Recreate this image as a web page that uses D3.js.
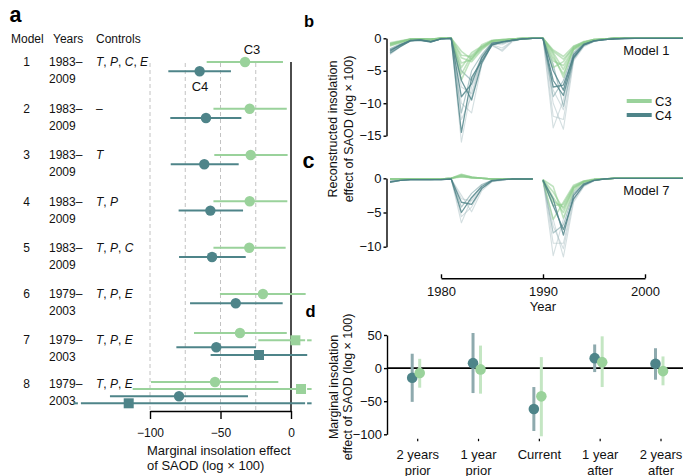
<!DOCTYPE html>
<html><head><meta charset="utf-8">
<script src="https://cdn.jsdelivr.net/npm/d3@7"></script>
<style>
body{margin:0;background:#fff;}
svg{display:block;font-family:"Liberation Sans",Arial,Helvetica,sans-serif;}
</style></head><body>
<svg id="chart" width="683" height="476"></svg>
<script>
// ===================== DATA =====================
// Panel a: model specifications
const modelIds = [1,2,3,4,5,6,7,8];
const modelStart = ["1983–","1983–","1983–","1983–","1983–","1979–","1979–","1979–"];
const modelEnd = ["2009","2009","2009","2009","2009","2003","2003","2003"];
const modelControls = ["T,P,C,E","–","T","T,P","T,P,C","T,P,E","T,P,E","T,P,E"];

// Panel a: estimates (marginal insolation effect, log x 100)
const estModel = [1,1, 2,2, 3,3, 4,4, 5,5, 6,6, 7,7,7,7, 8,8,8,8];
const estGroup = ["C3","C4","C3","C4","C3","C4","C3","C4","C3","C4","C3","C4",
                  "C3","C3","C4","C4","C3","C3","C4","C4"];
const estShape = ["circle","circle","circle","circle","circle","circle","circle","circle","circle","circle","circle","circle",
                  "circle","square","circle","square","circle","square","circle","square"];
const estValue = [-32.6,-64.8, -29.3,-60.3, -28.6,-61.5, -29.3,-57.2, -29.6,-56.0, -19.9,-39.2,
                  -36.2,3.1,-53.0,-22.7, -53.9,7.1,-79.4,-115.1];
const estLow   = [-59.8,-87.0, -55.0,-85.6, -54.4,-85.3, -55.0,-79.7, -55.0,-79.4, -50.4,-71.6,
                  -68.8,-23.2,-81.3,-57.0, -99.3,-112.3,-128.4,-240];
const estHigh  = [-5.7,-42.6, -3.0,-35.2, -2.4,-37.1, -2.6,-34.0, -3.8,-32.1, 10.4,-5.9,
                  -3.0,30,-24.8,11.5, -9.0,120,-30.5,110];
const axisATicks = [-100,-50,0];
const gridATicks = [-100,-75,-50,-25];

// Panels b, c: reconstructed insolation effect ensembles
const years = [1975,1976,1977,1978,1979,1980,1981,1982,1983,1984,1985,1986,1987,1988,1989,
               1990,1991,1992,1993,1994,1995,1996,1997,1998,1999,2000,2001,2002,2003,2004];
const m1C4Shade = ["light","light","light","light","mid","mid","dark","dark","dark"];
const m1C4Runs = [
 [-2.5,-1.3,-0.4,-0.3,-0.6,-0.1,0,-16.0,-7.5,-3.5,-1.0,-2.0,-0.5,-0.1,0,0,-13.8,-9.5,-3.0,-1.2,-0.5,-0.2,-0.1,0,0,0,0,0,0,0],
 [-1.9,-1.1,-0.3,-0.2,-0.4,0,0,-10.0,-11.5,-4.0,-1.0,-1.5,-0.4,-0.1,0,0,-10.0,-14.0,-3.5,-1.3,-0.5,-0.2,-0.1,0,0,0,0,0,0,0],
 [-1.7,-1.0,-0.3,-0.2,-0.4,0,0,-7.5,-8.5,-3.0,-0.9,-1.0,-0.3,-0.1,0,0,-12.0,-12.5,-3.2,-1.0,-0.4,-0.1,0,0,0,0,0,0,0,0],
 [-2.2,-1.2,-0.4,-0.3,-0.5,-0.1,0,-12.5,-9.0,-3.2,-1.2,-1.8,-0.4,-0.1,0,0,-8.0,-11.0,-3.0,-1.1,-0.4,-0.1,0,0,0,0,0,0,0,0],
 [-2.1,-1.2,-0.3,-0.3,-0.5,-0.1,0,-5.0,-6.5,-2.8,-0.7,-0.5,-0.2,-0.1,0,0,-4.0,-10.5,-3.2,-1.1,-0.4,-0.2,-0.1,0,0,0,0,0,0,0],
 [-1.6,-0.9,-0.3,-0.2,-0.4,0,0,-11.5,-5.0,-2.5,-0.6,-0.8,-0.3,-0.1,0,0,-9.0,-6.5,-2.2,-0.8,-0.3,-0.1,0,0,0,0,0,0,0,0],
 [-2.3,-1.3,-0.4,-0.3,-0.6,-0.1,0,-14.5,-6.0,-3.5,-1.0,-0.6,-0.3,-0.1,0,0,-6.5,-8.8,-3.0,-1.0,-0.4,-0.2,-0.1,-0.1,0,0,0,0,0,0],
 [-2.0,-1.0,-0.3,-0.3,-0.5,-0.1,0,-9.0,-7.0,-3.0,-0.8,-0.5,-0.3,-0.1,0,0,-5.0,-8.0,-2.5,-0.9,-0.4,-0.2,-0.1,0,0,0,0,0,0,0],
 [-1.8,-1.1,-0.4,-0.2,-0.5,-0.1,0,-6.5,-9.5,-3.8,-1.0,-0.6,-0.3,-0.1,0,0,-7.5,-7.2,-2.8,-1.0,-0.4,-0.2,-0.1,0,0,0,0,0,0,0]
];
const m1C3Runs = [
 [-1.0,-0.6,-0.2,-0.1,-0.2,0,0,-6.4,-3.0,-1.5,-0.4,-0.3,-0.2,-0.1,0,0,-2.0,-3.2,-1.5,-0.7,-0.3,-0.1,0,0,0,0,0,0,0,0],
 [-0.8,-0.5,-0.1,-0.1,-0.1,0,0,-3.0,-3.6,-1.8,-0.5,-0.3,-0.2,-0.1,0,0,-3.0,-5.5,-1.8,-0.8,-0.3,-0.1,0,0,0,0,0,0,0,0],
 [-1.2,-0.7,-0.2,-0.1,-0.2,0,0,-4.5,-2.2,-1.2,-0.4,-0.3,-0.1,0,0,0,-1.8,-2.8,-1.2,-0.6,-0.2,-0.1,0,0,0,0,0,0,0,0],
 [-0.7,-0.4,-0.1,-0.1,-0.1,0,0,-2.0,-3.2,-1.6,-0.5,-0.3,-0.1,0,0,0,-3.5,-4.2,-1.6,-0.7,-0.3,-0.1,0,0,0,0,0,0,0,0],
 [-0.9,-0.5,-0.2,-0.1,-0.2,0,0,-5.5,-2.6,-1.3,-0.4,-0.3,-0.1,0,0,0,-2.5,-6.0,-1.4,-0.6,-0.2,-0.1,0,0,0,0,0,0,0,0],
 [-1.1,-0.6,-0.2,-0.1,-0.2,0,0,-3.8,-3.3,-1.0,-0.3,-0.2,-0.1,0,0,0,-4.5,-3.6,-1.3,-0.5,-0.2,-0.1,0,0,0,0,0,0,0,0],
 [-0.9,-0.5,-0.1,-0.1,-0.1,0,0,-2.6,-2.8,-1.4,-0.4,-0.2,-0.1,0,0,0,-2.2,-4.8,-1.7,-0.6,-0.2,-0.1,0,0,0,0,0,0,0,0]
];
const m7C4Shade = ["light","light","light","light","mid","dark","dark"];
const m7C4Runs = [
 [-0.4,-0.2,-0.2,-0.2,-0.2,-0.1,-0.1,-6.5,-3.0,-1.0,-0.3,-0.2,-0.1,-0.1,-0.1,-0.2,-11.3,-6.0,-2.0,-0.8,-0.2,-0.1,0,0,0,0,0,0,0,0],
 [-0.5,-0.3,-0.2,-0.2,-0.2,-0.2,-0.1,-2.5,-4.9,-1.8,-0.5,-0.3,-0.1,-0.1,-0.1,-0.3,-6.0,-11.5,-3.5,-1.2,-0.4,-0.1,0,0,0,0,0,0,0,0],
 [-0.4,-0.3,-0.2,-0.2,-0.2,-0.1,-0.1,-3.0,-3.3,-1.4,-0.4,-0.2,-0.1,-0.1,-0.1,-0.2,-9.5,-9.5,-2.8,-1.0,-0.3,-0.1,0,0,0,0,0,0,0,0],
 [-0.5,-0.3,-0.2,-0.2,-0.2,-0.1,-0.1,-5.6,-4.2,-1.5,-0.4,-0.2,-0.1,-0.1,-0.1,-0.3,-7.0,-10.3,-3.2,-1.1,-0.3,-0.1,0,0,0,0,0,0,0,0],
 [-0.6,-0.3,-0.2,-0.2,-0.2,-0.2,-0.1,-4.2,-2.2,-0.9,-0.3,-0.2,-0.1,-0.1,-0.1,-0.2,-8.0,-6.8,-2.2,-0.9,-0.3,-0.1,0,0,0,0,0,0,0,0],
 [-0.5,-0.3,-0.2,-0.2,-0.2,-0.2,-0.1,-5.0,-2.8,-1.2,-0.3,-0.2,-0.1,-0.1,-0.1,-0.3,-4.0,-7.5,-3.0,-1.0,-0.3,-0.1,0,0,0,0,0,0,0,0],
 [-0.6,-0.3,-0.2,-0.2,-0.2,-0.2,-0.1,-3.5,-3.8,-1.5,-0.4,-0.2,-0.1,-0.1,-0.1,-0.3,-3.0,-8.3,-2.5,-0.8,-0.3,-0.1,0,0,0,0,0,0,0,0]
];
const m7C3Runs = [
 [-0.1,-0.1,-0.1,-0.1,-0.1,-0.1,0,0.5,0.2,0,-0.1,-0.1,-0.1,-0.1,-0.1,-0.2,-2.0,-4.5,-1.5,-0.5,-0.2,-0.1,0,0,0,0,0,0,0,0],
 [-0.1,-0.1,-0.1,-0.1,-0.1,-0.1,0,0.3,0.1,0,-0.1,-0.1,-0.1,-0.1,-0.1,-0.3,-4.0,-3.8,-1.2,-0.4,-0.2,-0.1,0,0,0,0,0,0,0,0],
 [-0.1,-0.1,-0.1,-0.1,-0.1,-0.1,0,0.6,0.2,0,-0.1,-0.1,-0.1,-0.1,-0.1,-0.2,-1.2,-5.8,-1.8,-0.6,-0.2,-0.1,0,0,0,0,0,0,0,0],
 [-0.1,-0.1,-0.1,-0.1,-0.1,-0.1,0,0.4,0.1,0,-0.1,-0.1,-0.1,-0.1,-0.1,-0.4,-6.0,-3.5,-1.0,-0.4,-0.1,-0.1,0,0,0,0,0,0,0,0],
 [-0.1,-0.1,-0.1,-0.1,-0.1,-0.1,0,0.2,0.1,0,-0.1,-0.1,-0.1,-0.1,-0.1,-0.2,-2.8,-5.0,-1.4,-0.5,-0.2,-0.1,0,0,0,0,0,0,0,0],
 [-0.1,-0.1,-0.1,-0.1,-0.1,-0.1,0,0.3,0.1,0,-0.1,-0.1,-0.1,-0.1,-0.1,-0.3,-3.4,-4.2,-1.3,-0.5,-0.2,-0.1,0,0,0,0,0,0,0,0]
];
const m7GapAfter = 1989;
const yearTicks = [1980,1990,2000];
const bTicks = [0,-5,-10,-15];
const cTicks = [0,-5,-10];

// Panel d: lagged effects
const lagCategories = ["2 years prior","1 year prior","Current","1 year after","2 years after"];
const lagLine1 = ["2 years","1 year","Current","1 year","2 years"];
const lagLine2 = ["prior","prior","","after","after"];
const lagC4 = [-14.5, 7.5, -61.8, 15.0, 6.6];
const lagC4Low = [-51.0, -37.7, -95.0, -6.0, -17.5];
const lagC4High = [21.7, 53.0, -28.6, 35.7, 30.0];
const lagC3 = [-7.5, -2.0, -42.7, 9.0, -4.5];
const lagC3Low = [-29.6, -38.6, -103.0, -28.6, -26.0];
const lagC3High = [14.0, 34.0, 16.6, 48.0, 17.6];
const dTicks = [50,0,-50,-100];

// ===================== STYLE =====================
const COL = {C3:"#9ad29b", C4:"#4e8489"};
const svg = d3.select("#chart");

function letter(t,x,y,size){
  svg.append("text").attr("x",x).attr("y",y).attr("font-size",size)
     .attr("font-weight","bold").attr("fill","#000").text(t);
}
letter("a",9.5,21.7,21.5);
letter("b",304,27,16.5);
letter("c",302.5,168,21.5);
letter("d",305.5,316.7,16.5);

function styleAxis(ax, size){
  ax.attr("font-family",null).attr("font-size",null);
  ax.selectAll("text").attr("font-size",size).attr("fill","#111");
  ax.selectAll("path,line").attr("stroke","#000").attr("stroke-width",1.4);
}

// ===================== PANEL A =====================
const gA = svg.append("g").attr("font-size",12).attr("fill","#111");
gA.append("text").attr("x",11).attr("y",43).text("Model");
gA.append("text").attr("x",53).attr("y",43).text("Years");
gA.append("text").attr("x",96).attr("y",43).text("Controls");

const modelY = d3.scaleLinear().domain(modelIds).range([62,108.7,155,201.3,247.7,294,340,383.5]);
const xA = d3.scaleLinear().domain([-100,0]).range([150,291]);

modelIds.forEach((m,i)=>{
  const y = modelY(m);
  gA.append("text").attr("x",26.7).attr("y",y+4.3).attr("text-anchor","middle").text(m);
  gA.append("text").attr("x",49).attr("y",y+4.3).text(modelStart[i]);
  gA.append("text").attr("x",49).attr("y",y+21.3).text(modelEnd[i]);
  const t = gA.append("text").attr("x",96).attr("y",y+4.3);
  const parts = modelControls[i].split(",");
  parts.forEach((p,k)=>{
    if (k>0) t.append("tspan").text(", ");
    t.append("tspan").attr("font-style", p==="–" ? "normal":"italic").text(p);
  });
});

// gridlines
gA.selectAll("line.grid").data(gridATicks).join("line")
  .attr("x1",d=>xA(d)).attr("x2",d=>xA(d)).attr("y1",63).attr("y2",411)
  .attr("stroke","#b3b3b3").attr("stroke-width",0.8).attr("stroke-dasharray","4,3");

// zero line
gA.append("line").attr("x1",xA(0)).attr("x2",xA(0)).attr("y1",62).attr("y2",411)
  .attr("stroke","#000").attr("stroke-width",1.4);

// axis
const axA = gA.append("g").attr("transform","translate(0,411)")
  .call(d3.axisBottom(xA).tickValues(axisATicks).tickSize(8).tickSizeOuter(0).tickPadding(9));
styleAxis(axA, 12);
gA.append("text").attr("x",147).attr("y",455).attr("font-size",13).text("Marginal insolation effect");
gA.append("text").attr("x",147).attr("y",470).attr("font-size",13).text("of SAOD (log × 100)");

// estimates
const RMAX = 10, RTH = 12, LMIN = -149;
const ests = estValue.map((v,i)=>({model:estModel[i],group:estGroup[i],shape:estShape[i],v,lo:estLow[i],hi:estHigh[i]}));
const offs2 = [0,9.3];
const offs4 = {7:[-7,0.3,7.3,15], 8:[-1.5,5.5,12.8,19.8]};
const counter = {};
ests.forEach(e=>{
  const k = counter[e.model] = (counter[e.model]===undefined?0:counter[e.model]+1);
  const n = estModel.filter(m=>m===e.model).length;
  e.y = modelY(e.model) + (n===2 ? offs2[k] : offs4[e.model][k]);
});
const gE = gA.append("g");
ests.forEach(e=>{
  const c = COL[e.group];
  const truncR = e.hi > RTH, truncL = e.lo < LMIN;
  const x1 = truncL ? xA(LMIN) : xA(e.lo);
  const x2 = truncR ? xA(RMAX) : xA(e.hi);
  gE.append("line").attr("x1",x1).attr("x2",x2).attr("y1",e.y).attr("y2",e.y)
    .attr("stroke",c).attr("stroke-width",2);
  if (truncR) gE.append("line").attr("x1",x2+2).attr("x2",x2+6.5).attr("y1",e.y).attr("y2",e.y)
    .attr("stroke",c).attr("stroke-width",2);
  if (truncL) gE.append("line").attr("x1",x1-7.5).attr("x2",x1-3).attr("y1",e.y).attr("y2",e.y)
    .attr("stroke",c).attr("stroke-width",2);
  if (e.shape==="circle") gE.append("circle").attr("cx",xA(e.v)).attr("cy",e.y).attr("r",5.2).attr("fill",c);
  else gE.append("rect").attr("x",xA(e.v)-5).attr("y",e.y-5).attr("width",10).attr("height",10).attr("fill",c);
});
gA.append("text").attr("x",252).attr("y",54.3).attr("text-anchor","middle").attr("font-size",13).text("C3");
gA.append("text").attr("x",200).attr("y",90.5).attr("text-anchor","middle").attr("font-size",13).text("C4");

// ===================== PANELS B, C =====================
const xYear = d3.scaleLinear().domain([1980,2000]).range([441,645]);
const yB = d3.scaleLinear().domain([-15,0]).range([135.7,38.3]);
const yC = d3.scaleLinear().domain([-10,0]).range([246.7,178.3]);
const shadeStyle = {
  light:{stroke:"#a9c0c3",op:0.5,w:1.1},
  mid:{stroke:"#6f9a9e",op:0.55,w:1.2},
  dark:{stroke:"#4a7f84",op:0.8,w:1.3}
};
const c3Style = {stroke:"#8ccc8d",op:0.55,w:1.6};

function drawRuns(g, yS, runs, styleFn, gapAfter){
  runs.forEach((r,i)=>{
    const st = styleFn(i);
    const pts = years.map((yr,j)=>({yr,v:r[j]}));
    const segs = gapAfter ? [pts.filter(p=>p.yr<=gapAfter), pts.filter(p=>p.yr>gapAfter)] : [pts];
    segs.forEach(s=>{
      g.append("path").datum(s)
       .attr("d", d3.line().x(p=>xYear(p.yr)).y(p=>yS(p.v)))
       .attr("fill","none").attr("stroke",st.stroke).attr("stroke-opacity",st.op)
       .attr("stroke-width",st.w).attr("stroke-linejoin","round");
    });
  });
}
function panelTS(yS, c4Runs, c4Shade, c3Runs, gapAfter){
  const g = svg.append("g");
  const lightIdx = c4Shade.map((s,i)=>i).filter(i=>c4Shade[i]!=="dark");
  const darkIdx = c4Shade.map((s,i)=>i).filter(i=>c4Shade[i]==="dark");
  drawRuns(g, yS, lightIdx.map(i=>c4Runs[i]), i=>shadeStyle[c4Shade[lightIdx[i]]], gapAfter);
  drawRuns(g, yS, c3Runs, ()=>c3Style, gapAfter);
  drawRuns(g, yS, darkIdx.map(i=>c4Runs[i]), ()=>shadeStyle.dark, gapAfter);
  return g;
}
panelTS(yB, m1C4Runs, m1C4Shade, m1C3Runs, null);
panelTS(yC, m7C4Runs, m7C4Shade, m7C3Runs, m7GapAfter);

function yAxis(scale, ticks, x){
  const ax = svg.append("g").attr("transform",`translate(${x},0)`)
    .call(d3.axisLeft(scale).tickValues(ticks).tickSize(3).tickSizeOuter(0).tickPadding(2));
  styleAxis(ax, 13);
  return ax;
}
yAxis(yB, bTicks, 386.5);
yAxis(yC, cTicks, 386.5);
const axYear = svg.append("g").attr("transform","translate(0,278.3)")
  .call(d3.axisBottom(xYear).tickValues(yearTicks).tickFormat(d3.format("d")).tickSize(-4).tickSizeOuter(0).tickPadding(8));
styleAxis(axYear, 13);
svg.append("text").attr("x",543).attr("y",311).attr("text-anchor","middle").attr("font-size",13).attr("fill","#111").text("Year");

svg.append("text").attr("x",623.3).attr("y",54.5).attr("font-size",13).attr("fill","#111").text("Model 1");
svg.append("text").attr("x",623.3).attr("y",194.5).attr("font-size",13).attr("fill","#111").text("Model 7");

// legend
[["C3",101],["C4",115]].forEach(([k,y])=>{
  svg.append("line").attr("x1",626.7).attr("x2",651.7).attr("y1",y).attr("y2",y)
     .attr("stroke",COL[k]).attr("stroke-width",4);
  svg.append("text").attr("x",655).attr("y",y+4.6).attr("font-size",13).attr("fill","#111").text(k);
});

function yLabel(lines, cx, cy){
  lines.forEach((t,i)=>{
    svg.append("text").attr("transform",`translate(${cx[i]},${cy}) rotate(-90)`)
      .attr("text-anchor","middle").attr("font-size",12.5).attr("fill","#111").text(t);
  });
}
yLabel(["Reconstructed insolation","effect of SAOD (log × 100)"],[336.5,352.5],129);
yLabel(["Marginal insolation","effect of SAOD (log × 100)"],[337.8,351.5],387);

// ===================== PANEL D =====================
const xD = d3.scalePoint().domain(lagCategories).range([417.7,661]);
const yD = d3.scaleLinear().domain([-100,50]).range([434.3,335]);
const gD = svg.append("g");
gD.append("line").attr("x1",387).attr("x2",683).attr("y1",yD(0)).attr("y2",yD(0))
  .attr("stroke","#000").attr("stroke-width",1.6);
const OFF4 = -5.5, OFF3 = 2;
lagCategories.forEach((c,i)=>{
  gD.append("line").attr("x1",xD(c)+OFF4).attr("x2",xD(c)+OFF4).attr("y1",yD(lagC4Low[i])).attr("y2",yD(lagC4High[i]))
    .attr("stroke","#8eaaae").attr("stroke-width",3);
  gD.append("line").attr("x1",xD(c)+OFF3).attr("x2",xD(c)+OFF3).attr("y1",yD(lagC3Low[i])).attr("y2",yD(lagC3High[i]))
    .attr("stroke","#c4e6c3").attr("stroke-width",3);
});
lagCategories.forEach((c,i)=>{
  gD.append("circle").attr("cx",xD(c)+OFF4).attr("cy",yD(lagC4[i])).attr("r",5.3).attr("fill",COL.C4);
});
lagCategories.forEach((c,i)=>{
  gD.append("circle").attr("cx",xD(c)+OFF3).attr("cy",yD(lagC3[i])).attr("r",5.3).attr("fill",COL.C3);
});
lagCategories.forEach((c,i)=>{
  gD.append("line").attr("x1",xD(c)).attr("x2",xD(c)).attr("y1",438.8).attr("y2",441.2)
    .attr("stroke","#000").attr("stroke-width",1.2);
  gD.append("text").attr("x",xD(c)).attr("y",458.5).attr("text-anchor","middle").attr("font-size",13).attr("fill","#111").text(lagLine1[i]);
  if (lagLine2[i]) gD.append("text").attr("x",xD(c)).attr("y",474.5).attr("text-anchor","middle").attr("font-size",13).attr("fill","#111").text(lagLine2[i]);
});
yAxis(yD, dTicks, 387);
</script>
</body></html>
